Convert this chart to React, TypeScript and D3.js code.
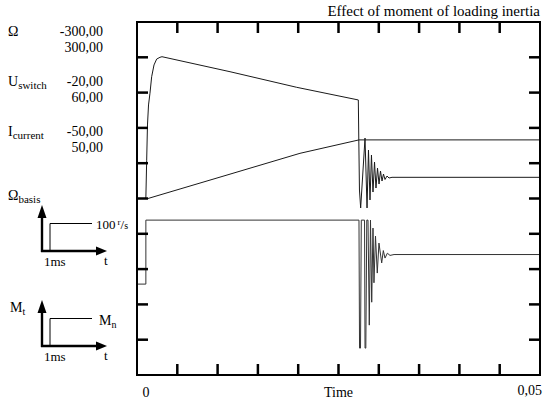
import React from 'react';
import * as d3 from 'd3';

// time in ms, values in the physical unit of each trace
const timeDomain: [number, number] = [0, 50];
const timeLabels = ['0', 'Time', '0,05'];

const omegaRange: [number, number] = [-300, 300];
const switchRange: [number, number] = [-20, 60];
const currentRange: [number, number] = [-50, 50];

const channelNames = [
  { main: 'Ω', sub: '' },
  { main: 'U', sub: 'switch' },
  { main: 'I', sub: 'current' },
];
const channelMin = ['-300,00', '-20,00', '-50,00'];
const channelMax = ['300,00', '60,00', '50,00'];

// motor speed Ω (r/s)
const omegaSpeed: [number, number][] = [
  [0, 0], [1.0, 0], [1.1, 1], [1.2, 65], [1.3, 125], [1.43, 159], [1.61, 179], [1.82, 207],
  [2.11, 227], [2.44, 237], [2.85, 240], [3.1, 241], [11.54, 215.5], [19.81, 189], [27.46, 167.5],
  [27.52, 99.5], [27.6, 14.4], [27.75, -16.1], [28.29, 102.8], [28.54, -16.1], [28.72, 82.4],
  [28.91, -2.5], [29.09, 73.9], [29.28, 11], [29.47, 62], [29.65, 17.8], [29.84, 51.8],
  [30.03, 24.6], [30.21, 46.7], [30.4, 29.7], [30.58, 41.6], [30.77, 32.3], [31.02, 38.2],
  [31.27, 34.8], [31.64, 36], [50, 36],
];

// current I (A)
const currentTrace: [number, number][] = [
  [0, 0], [1.36, 0], [5.34, 2.7], [11.54, 6.9], [20.22, 12.8], [27.54, 16.6], [50, 16.6],
];

// switch voltage U (V)
const switchTrace: [number, number][] = [
  [0, 0.6], [1.1, 0.6], [1.1, 15.1], [27.54, 15.1], [27.61, -13.9], [27.73, -13.9], [27.83, 15.1],
  [28.23, 15.1], [28.29, -13.9], [28.39, -13.9], [28.51, 15.1], [28.66, 15.1], [28.82, -8.7],
  [28.97, 15.1], [29.12, -3.5], [29.28, 13.3], [29.4, 0.9], [29.59, 11.5], [29.81, 3.1],
  [30.02, 9.9], [30.36, 5.4], [30.56, 8.2], [30.77, 6.5], [31.06, 7.6], [31.39, 7.1],
  [31.89, 7.3], [50, 7.3],
];

const W = 543;
const H = 405;
const left = 137;
const right = 540;
const top = 22;
const bottom = 375;
const tickLen = 11;
const serif = '"Liberation Serif", "DejaVu Serif", serif';

// small step-input sketch (axes with arrows and a step)
function StepSketch({ dy, children }: { dy: number; children?: React.ReactNode }) {
  return (
    <g transform={`translate(0, ${dy})`} fontFamily={serif} fill="#000">
      <line x1={42} y1={252} x2={42} y2={216} stroke="#000" strokeWidth={2.4} />
      <polygon points="42,205 37.5,218 46.5,218" />
      <line x1={41} y1={251} x2={98} y2={251} stroke="#000" strokeWidth={2.4} />
      <polygon points="107,251 96,246.5 96,255.5" />
      <polyline points="50,251 50,223.5 92,223.5" fill="none" stroke="#000" strokeWidth={1} />
      <text x={44} y={266} fontSize={13}>1ms</text>
      <text x={104} y={265} fontSize={13}>t</text>
      {children}
    </g>
  );
}

export default function App() {
  const x = d3.scaleLinear().domain(timeDomain).range([left, right]);
  const yOmega = d3.scaleLinear().domain(omegaRange).range([bottom, top]);
  const ySwitch = d3.scaleLinear().domain(switchRange).range([bottom, top]);
  const yCurrent = d3.scaleLinear().domain(currentRange).range([bottom, top]);
  const yDiv = d3.scaleLinear().domain([0, 10]).range([top, bottom]);

  const lineOf = (ys: d3.ScaleLinear<number, number>) =>
    d3
      .line<[number, number]>()
      .x((d) => x(d[0]))
      .y((d) => ys(d[1]));

  const xTicks = x.ticks(10).filter((t) => t > timeDomain[0] && t < timeDomain[1]);
  const yTicks = yDiv.ticks(10).filter((t) => t > 0 && t < 10);

  return (
    <svg
      width={W}
      height={H}
      style={{ position: 'absolute', left: 0, top: 0, background: '#fff' }}
      fontFamily={serif}>
      {/* title */}
      <text x={540} y={16} fontSize={15} textAnchor="end">
        Effect of moment of loading inertia
      </text>

      {/* channel names and ranges */}
      {channelNames.map((c, i) => (
        <g key={c.main + c.sub}>
          <text x={8} y={36 + i * 50} fontSize={14}>
            {c.main}
            {c.sub && (
              <tspan fontSize={11} dy={3}>
                {c.sub}
              </tspan>
            )}
          </text>
          <text x={103} y={36 + i * 50} fontSize={14} textAnchor="end">
            {channelMin[i]}
          </text>
          <text x={103} y={52 + i * 50} fontSize={14} textAnchor="end">
            {channelMax[i]}
          </text>
        </g>
      ))}

      <text x={8} y={200} fontSize={14}>
        Ω<tspan fontSize={11} dy={3}>basis</tspan>
      </text>
      <StepSketch dy={0}>
        <text x={96} y={229} fontSize={13}>
          100<tspan dx={2} dy={-4} fontSize={9}>r</tspan>
          <tspan dy={4}>/</tspan>
          <tspan fontSize={10}>s</tspan>
        </text>
      </StepSketch>

      <text x={10} y={312} fontSize={14}>
        M<tspan fontSize={10} dy={3}>t</tspan>
      </text>
      <StepSketch dy={95}>
        <text x={99} y={230} fontSize={14}>
          M<tspan fontSize={10} dy={3}>n</tspan>
        </text>
      </StepSketch>

      {/* traces */}
      <g fill="none" stroke="#1a1a1a" strokeWidth={1} strokeLinejoin="round">
        <path d={lineOf(yCurrent)(currentTrace) ?? ''} />
        <path d={lineOf(ySwitch)(switchTrace) ?? ''} stroke="#333" />
        <path d={lineOf(yOmega)(omegaSpeed) ?? ''} />
      </g>

      {/* frame */}
      <rect x={left} y={top} width={right - left} height={bottom - top} fill="none" stroke="#000" strokeWidth={2} />

      {/* inward ticks */}
      <g stroke="#000" strokeWidth={2.5}>
        {xTicks.map((t) => (
          <g key={`x${t}`}>
            <line x1={x(t)} x2={x(t)} y1={top} y2={top + tickLen} />
            <line x1={x(t)} x2={x(t)} y1={bottom} y2={bottom - tickLen} />
          </g>
        ))}
        {yTicks.map((t) => (
          <g key={`y${t}`}>
            <line x1={left} x2={left + tickLen} y1={yDiv(t)} y2={yDiv(t)} />
            <line x1={right} x2={right - tickLen} y1={yDiv(t)} y2={yDiv(t)} />
          </g>
        ))}
      </g>

      {/* time axis labels */}
      <text x={146} y={397} fontSize={14} textAnchor="middle">
        {timeLabels[0]}
      </text>
      <text x={(left + right) / 2} y={397} fontSize={14} textAnchor="middle">
        {timeLabels[1]}
      </text>
      <text x={542} y={395} fontSize={14} textAnchor="end">
        {timeLabels[2]}
      </text>
    </svg>
  );
}
